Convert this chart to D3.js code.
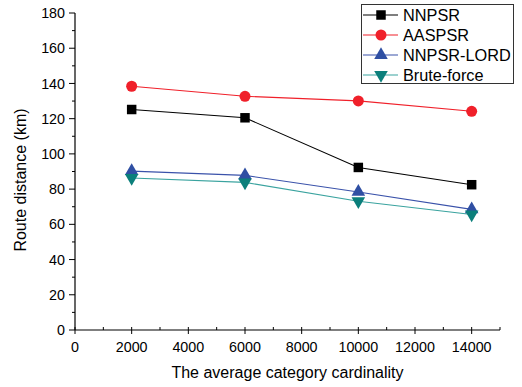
<!DOCTYPE html>
<html>
<head>
<meta charset="utf-8">
<script src="https://cdn.jsdelivr.net/npm/d3@7"></script>
<style>
  body { margin: 0; background: #fff; }
  text { font-family: Arial, "Liberation Sans", sans-serif; fill: #000; }
</style>
</head>
<body>
<div id="chart"></div>
<script>
const cardinality = [2000, 6000, 10000, 14000];
const nnpsr = [125.2, 120.5, 92.3, 82.5];
const aaspsr = [138.4, 132.7, 130.1, 124.2];
const nnpsrLord = [90.2, 87.8, 78.4, 68.5];
const bruteForce = [86.3, 83.8, 73.1, 65.6];
const seriesNames = ["NNPSR", "AASPSR", "NNPSR-LORD", "Brute-force"];
const xTicks = [0, 2000, 4000, 6000, 8000, 10000, 12000, 14000];
const yTicks = [0, 20, 40, 60, 80, 100, 120, 140, 160, 180];

let width = 522, height = 387;
let margin = { left: 75, right: 22, top: 13, bottom: 57 };

let svg = d3.select("#chart")
  .append("svg")
    .attr("width", width)
    .attr("height", height);

let x = d3.scaleLinear()
  .domain([0, 15000])
  .range([margin.left, width - margin.right]);

let y = d3.scaleLinear()
  .domain([0, 180])
  .range([height - margin.bottom, margin.top]);

// styles per series
let styles = [
  { values: nnpsr, line: "#000", fill: "#000", symbol: d3.symbolSquare, size: 90, rot: 0 },
  { values: aaspsr, line: "#f0202a", fill: "#f0202a", symbol: d3.symbolCircle, size: 95, rot: 0 },
  { values: nnpsrLord, line: "#3a52aa", fill: "#2f4fa3", symbol: d3.symbolTriangle, size: 80, rot: 0 },
  { values: bruteForce, line: "#3aa39f", fill: "#0b7f7b", symbol: d3.symbolTriangle, size: 80, rot: 180 }
];

// x axis: major ticks cross the line, minor ticks point in
let xAxis = svg.append("g")
  .attr("transform", "translate(0," + y(0) + ")");
xAxis.append("line")
  .attr("x1", x(0)).attr("x2", x(15000))
  .attr("stroke", "#000").attr("stroke-width", 1.2);
xAxis.selectAll(".major")
  .data(xTicks)
  .enter()
  .append("line")
    .attr("x1", d => x(d)).attr("x2", d => x(d))
    .attr("y1", -3).attr("y2", 4)
    .attr("stroke", "#000");
xAxis.selectAll(".minor")
  .data(d3.range(1000, 15001, 2000))
  .enter()
  .append("line")
    .attr("x1", d => x(d)).attr("x2", d => x(d))
    .attr("y1", -3).attr("y2", 0)
    .attr("stroke", "#000");
xAxis.selectAll("text")
  .data(xTicks)
  .enter()
  .append("text")
    .attr("x", d => x(d))
    .attr("y", 22)
    .attr("text-anchor", "middle")
    .attr("font-size", 14.3)
    .text(d => d);

// y axis: ticks point out
let yAxis = svg.append("g")
  .attr("transform", "translate(" + x(0) + ",0)");
yAxis.append("line")
  .attr("y1", y(0)).attr("y2", y(180))
  .attr("stroke", "#000").attr("stroke-width", 1.2);
yAxis.selectAll(".major")
  .data(yTicks)
  .enter()
  .append("line")
    .attr("y1", d => y(d)).attr("y2", d => y(d))
    .attr("x1", -6).attr("x2", 0)
    .attr("stroke", "#000");
yAxis.selectAll(".minor")
  .data(d3.range(10, 180, 20))
  .enter()
  .append("line")
    .attr("y1", d => y(d)).attr("y2", d => y(d))
    .attr("x1", -3).attr("x2", 0)
    .attr("stroke", "#000");
yAxis.selectAll("text")
  .data(yTicks)
  .enter()
  .append("text")
    .attr("x", -10)
    .attr("y", d => y(d))
    .attr("dy", "0.36em")
    .attr("text-anchor", "end")
    .attr("font-size", 14.3)
    .text(d => d);

// axis titles
svg.append("text")
  .attr("x", (x(0) + x(15000)) / 2)
  .attr("y", 378)
  .attr("text-anchor", "middle")
  .attr("font-size", 16)
  .text("The average category cardinality");

svg.append("text")
  .attr("transform", "translate(26," + 180 + ") rotate(-90)")
  .attr("text-anchor", "middle")
  .attr("font-size", 16)
  .text("Route distance (km)");

// lines and markers
let line = d3.line()
  .x((d, i) => x(cardinality[i]))
  .y(d => y(d));

styles.forEach(s => {
  svg.append("path")
    .attr("d", line(s.values))
    .attr("fill", "none")
    .attr("stroke", s.line)
    .attr("stroke-width", 1.1);
});

styles.forEach(s => {
  svg.append("g")
    .selectAll("path")
    .data(s.values)
    .enter()
    .append("path")
      .attr("d", d3.symbol().type(s.symbol).size(s.size))
      .attr("transform", (d, i) => "translate(" + x(cardinality[i]) + "," + y(d) + ") rotate(" + s.rot + ")")
      .attr("fill", s.fill);
});

// legend
let legend = svg.append("g");
legend.append("rect")
  .attr("x", 361.5).attr("y", 4.5)
  .attr("width", 152).attr("height", 79)
  .attr("fill", "#fff")
  .attr("stroke", "#333")
  .attr("stroke-width", 1);

let rows = legend.selectAll(".row")
  .data(styles)
  .enter()
  .append("g")
    .attr("transform", (d, i) => "translate(0," + (15 + i * 20) + ")");
rows.append("line")
  .attr("x1", 363).attr("x2", 398)
  .attr("stroke", d => d.line)
  .attr("stroke-width", 1.1);
rows.append("path")
  .attr("d", d => d3.symbol().type(d.symbol).size(d.size)())
  .attr("transform", d => "translate(381,0) rotate(" + d.rot + ")")
  .attr("fill", d => d.fill);
rows.append("text")
  .attr("x", 403)
  .attr("dy", "0.36em")
  .attr("font-size", 16.3)
  .text((d, i) => seriesNames[i]);
</script>
</body>
</html>
